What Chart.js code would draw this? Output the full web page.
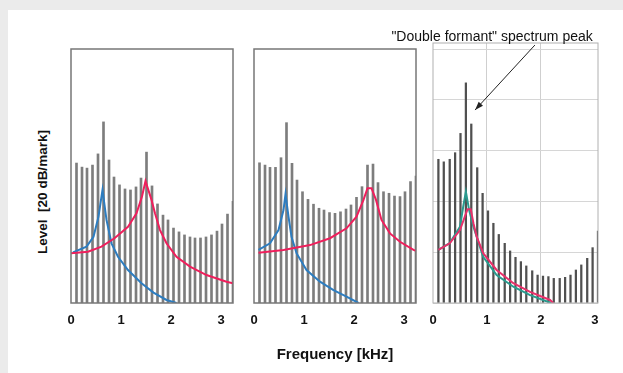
<!DOCTYPE html>
<html>
<head>
<meta charset="utf-8">
<script src="https://cdn.jsdelivr.net/npm/chart.js@4.4.1/dist/chart.umd.min.js"></script>
<style>
  html, body { margin: 0; padding: 0; }
  body { width: 623px; height: 373px; background: #ebebeb; position: relative; overflow: hidden; }
  #sheet { position: absolute; left: 8px; top: 10px; right: 0; bottom: 0; background: #fff; }
  canvas { position: absolute; top: 0; }
  #yTitle {
    position: absolute; left: 42px; top: 192px;
    transform: translate(-50%, -50%) rotate(-90deg);
    white-space: pre; color: #111;
    font: bold 13.5px 'Liberation Sans', Arial, sans-serif;
  }
</style>
</head>
<body>
<div id="sheet"></div>
<canvas id="panel1" width="200" height="373" style="left:50px"></canvas>
<canvas id="panel2" width="200" height="373" style="left:235px"></canvas>
<canvas id="panel3" width="240" height="373" style="left:380px"></canvas>
<div id="yTitle">Level  [20 dB/mark]</div>
<script>
// tick labels (kHz) and grid steps (dB)
const tickKHz = [0, 1, 2, 3];
const gridDb = [0, 20, 40, 60, 80, 100];

// harmonic frequencies in kHz
const freqA = [0.11, 0.22, 0.32, 0.43, 0.54, 0.65, 0.76, 0.86, 0.97, 1.08, 1.19, 1.30, 1.40, 1.51, 1.62,
               1.73, 1.84, 1.94, 2.05, 2.16, 2.27, 2.38, 2.48, 2.59, 2.70, 2.81, 2.92, 3.02, 3.13, 3.24];
const freqB = [0.10, 0.20, 0.31, 0.41, 0.51, 0.61, 0.71, 0.82, 0.92, 1.02, 1.12, 1.22, 1.33, 1.43, 1.53,
               1.63, 1.73, 1.84, 1.94, 2.04, 2.14, 2.24, 2.35, 2.45, 2.55, 2.65, 2.75, 2.86, 2.96, 3.06];

// harmonic levels in dB
const levels1 = [55.1, 53.5, 53.1, 54.3, 58.7, 71.3, 56.3, 49.6, 46.5, 44.9, 44.5, 45.7, 49.2, 59.4, 46.1,
                 39.0, 34.6, 32.7, 29.5, 28.0, 26.8, 26.0, 25.6, 25.6, 26.0, 26.8, 28.3, 31.1, 35.0, 40.0];
const levels2 = [55.2, 54.3, 53.4, 53.4, 57.2, 71.0, 55.0, 48.4, 43.8, 40.8, 38.9, 37.3, 36.6, 35.6, 35.3,
                 35.9, 37.0, 38.6, 41.6, 45.8, 54.3, 54.7, 47.4, 43.8, 43.2, 42.1, 41.9, 43.8, 47.8, 50.0];
const levels3 = [56.6, 55.6, 56.6, 59.2, 66.8, 86.7, 70.5, 53.3, 43.2, 36.3, 31.4, 27.0, 23.5, 20.5, 18.0,
                 16.3, 14.6, 12.7, 11.0, 10.6, 10.4, 9.7, 9.7, 10.1, 11.0, 13.0, 15.0, 17.6, 21.8, 28.3];

// formant curves [kHz, dB]
const p1Blue = [[0.04, 19.9], [0.31, 22.2], [0.45, 26.1], [0.55, 34.0], [0.63, 44.5], [0.71, 32.7], [0.81, 23.5],
                [0.94, 18.2], [1.14, 13.0], [1.41, 7.8], [1.65, 4.1], [1.91, 1.2], [2.11, 0]];
const p1Red = [[0.0, 19.6], [0.34, 20.2], [0.61, 22.2], [0.87, 25.5], [1.14, 30.0], [1.31, 35.3], [1.42, 41.9],
               [1.49, 48.0], [1.61, 40.6], [1.68, 35.3], [1.78, 28.7], [1.91, 23.5], [2.11, 18.2], [2.38, 14.3],
               [2.71, 11.0], [3.11, 8.4], [3.24, 7.8]];
const p2Blue = [[0.09, 20.9], [0.32, 23.5], [0.49, 28.7], [0.59, 36.6], [0.63, 42.9], [0.69, 34.0], [0.75, 26.1],
                [0.85, 19.6], [1.05, 13.0], [1.32, 8.4], [1.59, 5.1], [1.85, 2.5], [2.09, 0]];
const p2Red = [[0.09, 19.8], [0.59, 20.9], [1.12, 22.8], [1.52, 25.5], [1.85, 29.4], [2.05, 34.0], [2.19, 40.6],
               [2.27, 45.2], [2.35, 45.2], [2.44, 40.6], [2.55, 32.7], [2.72, 27.4], [2.92, 24.1], [3.19, 20.9],
               [3.24, 20.5]];
const p3Teal = [[0.10, 20.9], [0.31, 23.6], [0.50, 30.0], [0.56, 37.9], [0.61, 43.8], [0.67, 36.6], [0.75, 30.0],
                [0.93, 18.2], [1.18, 11.0], [1.49, 6.4], [1.80, 3.1], [2.14, 0.4], [2.20, 0]];
const p3Red = [[0.10, 20.9], [0.31, 23.5], [0.50, 28.7], [0.59, 34.0], [0.64, 36.9], [0.70, 36.9], [0.75, 31.4],
               [0.81, 26.1], [0.93, 19.6], [1.18, 13.0], [1.49, 7.8], [1.80, 4.4], [2.17, 1.2], [2.23, 0]];

const FONT = "'Liberation Sans', Arial, sans-serif";

// frame round the plot area
const panelBox = {
  id: 'panelBox',
  afterDatasetsDraw(chart, args, opts) {
    const {ctx, chartArea: a} = chart;
    ctx.save();
    ctx.strokeStyle = opts.color;
    ctx.lineWidth = opts.width;
    ctx.strokeRect(a.left, a.top, a.right - a.left, a.bottom - a.top);
    ctx.restore();
  }
};

// label + arrow, placed in data units of the panel
const notePlugin = {
  id: 'note',
  afterDraw(chart, args, opts) {
    if (!opts.text) return;
    const {ctx, scales: {x, y}} = chart;
    ctx.save();
    ctx.font = '14px ' + FONT;
    ctx.fillStyle = '#111';
    ctx.textAlign = 'right';
    ctx.textBaseline = 'middle';
    ctx.fillText(opts.text, x.getPixelForValue(opts.at[0]), y.getPixelForValue(opts.at[1]));

    const x0 = x.getPixelForValue(opts.from[0]), y0 = y.getPixelForValue(opts.from[1]);
    const x1 = x.getPixelForValue(opts.to[0]), y1 = y.getPixelForValue(opts.to[1]);
    ctx.strokeStyle = '#222';
    ctx.lineWidth = 1;
    ctx.beginPath();
    ctx.moveTo(x0, y0);
    ctx.lineTo(x1, y1);
    ctx.stroke();
    const ang = Math.atan2(y1 - y0, x1 - x0);
    ctx.fillStyle = '#222';
    ctx.beginPath();
    ctx.moveTo(x1, y1);
    ctx.lineTo(x1 - 9 * Math.cos(ang - 0.33), y1 - 9 * Math.sin(ang - 0.33));
    ctx.lineTo(x1 - 9 * Math.cos(ang + 0.33), y1 - 9 * Math.sin(ang + 0.33));
    ctx.closePath();
    ctx.fill();
    ctx.restore();
  }
};

function toPoints(pairs) {
  return pairs.map(p => ({x: p[0], y: p[1]}));
}

function makePanel(id, p) {
  return new Chart(document.getElementById(id), {
    type: 'bar',
    data: {
      datasets: [
        {type: 'line', data: toPoints(p.red), borderColor: p.redColor, borderWidth: 2,
         pointRadius: 0, tension: 0, order: 1},
        {type: 'line', data: toPoints(p.blue), borderColor: p.blueColor, borderWidth: 2,
         pointRadius: 0, tension: 0, order: 2},
        {type: 'bar', data: p.freqs.map((f, i) => ({x: f, y: p.levels[i]})),
         backgroundColor: p.barColor, barThickness: p.barWidth, order: 3}
      ]
    },
    options: {
      responsive: false,
      animation: false,
      layout: {padding: p.padding},
      plugins: {
        legend: {display: false},
        tooltip: {enabled: false},
        panelBox: {color: p.boxColor, width: p.boxWidth},
        note: p.note || {}
      },
      scales: {
        x: {
          type: 'linear',
          min: 0,
          max: p.xMax,
          offset: false,
          afterBuildTicks: axis => { axis.ticks = tickKHz.map(v => ({value: v})); },
          grid: {
            display: p.grid,
            offset: false,
            drawTicks: false,
            color: c => (c.tick && (c.tick.value === 1 || c.tick.value === 2)) ? '#cfcfcf' : 'rgba(0,0,0,0)'
          },
          border: {display: false},
          ticks: {color: '#111', padding: 10, maxRotation: 0, font: {family: FONT, size: 13, weight: 'bold'}},
          title: p.xTitle || {display: false}
        },
        y: {
          type: 'linear',
          min: 0,
          max: p.yMax,
          display: p.grid,
          afterBuildTicks: axis => { axis.ticks = gridDb.map(v => ({value: v})); },
          grid: {drawTicks: false, color: '#d6d6d6'},
          border: {display: false},
          ticks: {display: false}
        }
      }
    },
    plugins: [panelBox, notePlugin]
  });
}

makePanel('panel1', {
  freqs: freqA, levels: levels1, blue: p1Blue, red: p1Red,
  xMax: 3.24, yMax: 100, grid: false,
  padding: {left: 21, right: 17, top: 49, bottom: 34.4},
  barColor: '#7d7d7d', barWidth: 2, blueColor: '#2d7dc0', redColor: '#ef1f5c',
  boxColor: '#777777', boxWidth: 1.5
});

makePanel('panel2', {
  freqs: freqA, levels: levels2, blue: p2Blue, red: p2Red,
  xMax: 3.24, yMax: 100, grid: false,
  padding: {left: 19, right: 19, top: 49, bottom: 2.4},
  barColor: '#7d7d7d', barWidth: 2, blueColor: '#2d7dc0', redColor: '#ef1f5c',
  boxColor: '#777777', boxWidth: 1.5,
  xTitle: {display: true, text: 'Frequency [kHz]', color: '#111', padding: {top: 7, bottom: 7},
           font: {family: FONT, size: 15, weight: 'bold'}}
});

makePanel('panel3', {
  freqs: freqB, levels: levels3, blue: p3Teal, red: p3Red,
  xMax: 3.06, yMax: 102.4, grid: true,
  padding: {left: 53, right: 22, top: 43, bottom: 34.4},
  barColor: '#505050', barWidth: 1.6, blueColor: '#2a9a8e', redColor: '#e8306a',
  boxColor: '#b0b0b0', boxWidth: 1,
  note: {text: '"Double formant" spectrum peak', at: [2.963, 104.7], from: [1.89, 101.6], to: [0.78, 76.0]}
});
</script>
</body>
</html>
